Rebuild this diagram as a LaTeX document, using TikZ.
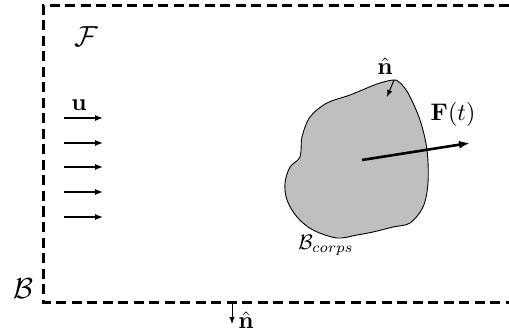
\documentclass[tikz,border=0pt]{standalone}
\usepackage{amsmath}
\usepackage{graphicx}
\usetikzlibrary{arrows.meta}
\begin{document}
\begin{tikzpicture}[x=1pt,y=-1pt,
  lbl/.style={inner sep=0pt},
  boundary/.style={line width=3pt,dash pattern=on 10pt off 5.5pt},
  flow/.style={line width=1.1pt,-{Latex[length=8pt,width=6pt]}},
  force/.style={line width=2.6pt,-{Latex[length=11pt,width=8pt]}},
  normal/.style={line width=1pt,-{Latex[length=7pt,width=5.5pt]}}]
\useasboundingbox (0,0) rectangle (509,334);
% dashed boundary
\coordinate (tr) at (509,6);
\coordinate (tl) at (43,6);
\coordinate (bl) at (43,302);
\coordinate (br) at (509,302);
\draw[boundary] (tr) -- (tl) -- (bl) -- (br);
% labels
\node[lbl] (Fcal) at (86,37) {\scalebox{2.9}{$\mathcal{F}$}};
\node[lbl] (Bcal) at (23,289) {\scalebox{2.9}{$\mathcal{B}$}};
\node[lbl] (u) at (79,105) {\scalebox{2.4}{$\mathbf{u}$}};
% flow arrows
\foreach \y/\n in {118/1,143/2,167/3,192/4,217/5}{
  \coordinate (us\n) at (64,\y);
  \coordinate (ue\n) at (103,\y);
  \draw[flow] (us\n) -- (ue\n);
}
% body
\draw[line width=0.9pt,fill=black!25] plot[smooth cycle,tension=0.55] coordinates{
 (393,80) (377,84) (350,95) (327,103) (310,117) (302,137) (300,157)
 (290,167) (285,183) (287,200) (297,217) (313,230) (337,238) (357,235)
 (373,232) (393,227) (410,223) (423,207) (428,183) (427,150) (420,120)
 (408,93) (399,82)};
\node[lbl] (Bc) at (326,245) {\scalebox{2.1}{$\mathcal{B}_{corps}$}};
% force
\coordinate (G) at (362,160);
\coordinate (Fend) at (470,143);
\draw[force] (G) -- (Fend);
\node[lbl] (Ft) at (453,115) {\scalebox{2.4}{$\mathbf{F}(t)$}};
% normal on body
\coordinate (nb1) at (394,80);
\coordinate (nb2) at (387,97);
\draw[normal] (nb1) -- (nb2);
\node[lbl] (nb) at (385,66) {\scalebox{2.4}{$\hat{\mathbf{n}}$}};
% normal on outer boundary
\coordinate (no1) at (232,302);
\coordinate (no2) at (232,324);
\draw[normal] (no1) -- (no2);
\node[lbl] (no) at (246,320) {\scalebox{2.4}{$\hat{\mathbf{n}}$}};
\end{tikzpicture}
\end{document}
